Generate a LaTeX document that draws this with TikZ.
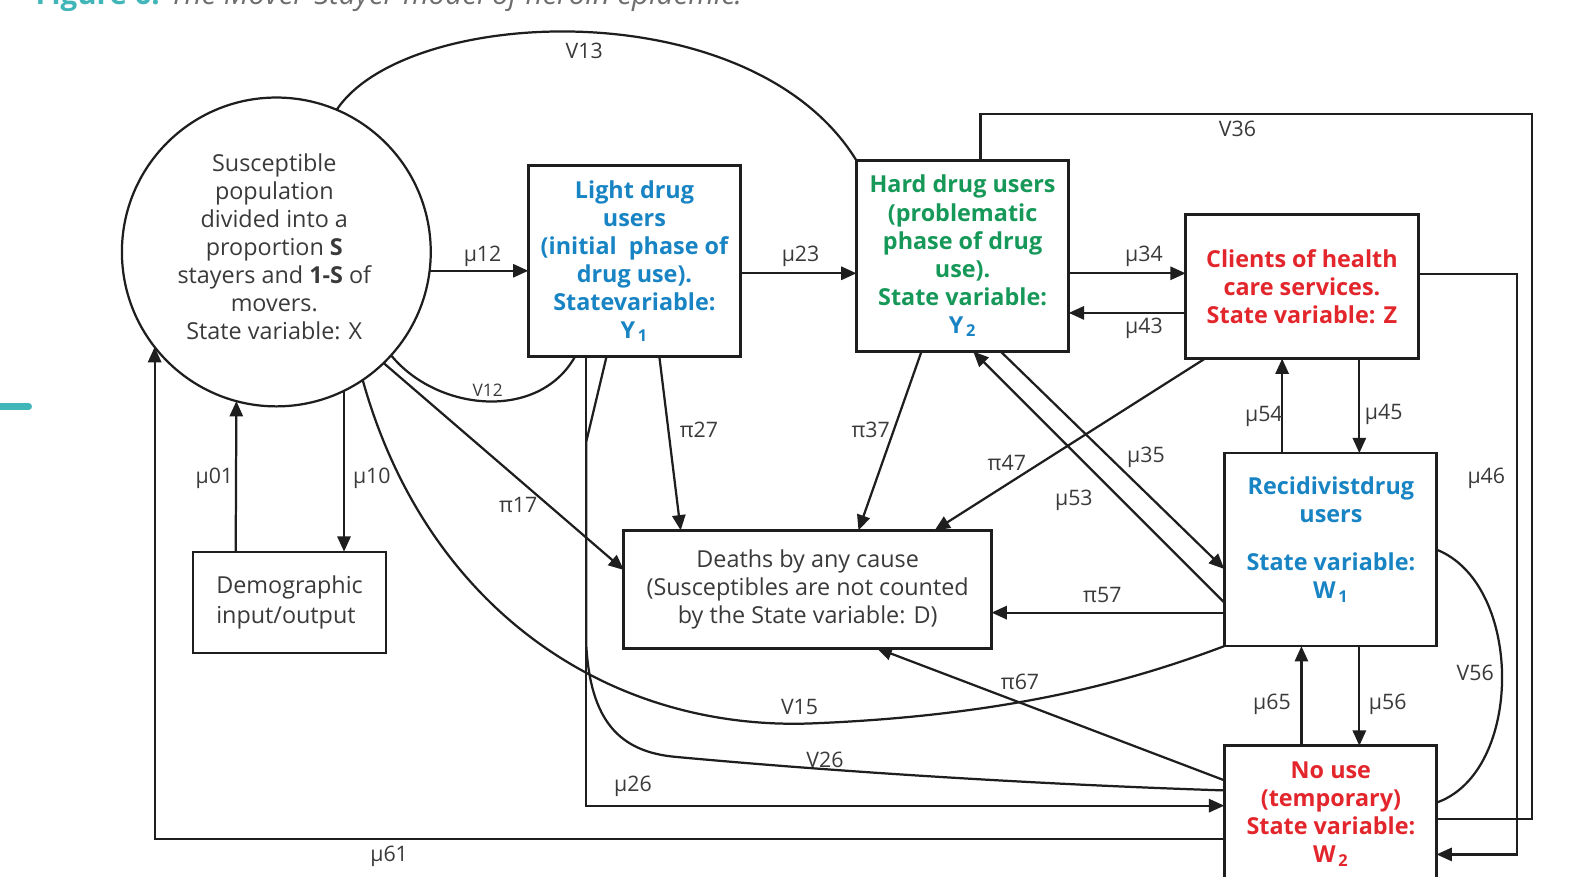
\documentclass[tikz,border=0pt]{standalone}
\usepackage{fontspec}
\setmainfont{Open Sans}
\usetikzlibrary{arrows.meta,calc}
\definecolor{lblue}{RGB}{24,132,196}
\definecolor{hgreen}{RGB}{22,152,88}
\definecolor{cred}{RGB}{226,38,44}
\definecolor{tealsix}{RGB}{64,182,184}
\definecolor{txt}{RGB}{58,58,58}
\definecolor{ttl}{RGB}{110,110,110}
\definecolor{ln}{RGB}{30,30,30}
\newcommand\mainfnt{\fontsize{11.5}{13.8}\selectfont}
\newcommand\labfnt{\fontsize{10.5}{12}\selectfont}
\begin{document}
\begin{tikzpicture}[x=0.5pt,y=-0.5pt,
  every node/.style={inner sep=0pt, outer sep=0pt},
  box/.style={draw=ln, line width=1.3pt, align=center, font=\mainfnt},
  btxt/.style={align=center, font=\mainfnt\bfseries},
  lab/.style={text=txt, font=\labfnt},
  conn/.style={draw=ln, line width=1.1pt},
  arr/.style={conn, -{Triangle[length=7.5pt,width=6.5pt]}}]
\useasboundingbox (0,0) rectangle (1568,863);
\fill[white] (0,0) rectangle (1568,863);
\clip (0,0) rectangle (1568,863);

% title (cut off at top) and side mark
\node[anchor=base west, font=\fontsize{14.5}{16}\selectfont] (T) at (35,4)
  {\textcolor{tealsix}{\bfseries Figure 6:} \textcolor{ttl}{\itshape The Mover-Stayer model of heroin epidemic.}};
\draw[tealsix, line width=3.5pt, line cap=round] (-10,400) -- (28,400);

% nodes
\node[circle, draw=ln, line width=1.1pt, minimum size=152pt] (S) at (272,248) {};
\node[text=txt, align=center, font=\mainfnt] (St) at (270,243)
  {Susceptible\\population\\divided into a\\proportion \textbf{S}\\stayers and \textbf{1-S} of\\movers.\\State variable: X};
\node[box, minimum width=104.5pt, minimum height=94pt, text=lblue, font=\mainfnt\bfseries] (L) at (624.5,257)
  {Light drug\\users\\(initial\ \ phase of\\drug use).\\Statevariable:\\Y\textsubscript{\,1}};
\node[box, minimum width=104.5pt, minimum height=94pt, text=hgreen, font=\mainfnt\bfseries] (H) at (947.5,252)
  {Hard drug users\\(problematic\\phase of drug\\use).\\State variable:\\\textcolor{lblue}{Y\textsubscript{\,2}}};
\node[box, minimum width=114.5pt, minimum height=71pt, text=cred, font=\mainfnt\bfseries] (C) at (1281.5,282)
  {Clients of health\\care services.\\State variable: Z};
\node[box, minimum width=104.5pt, minimum height=95pt] (R) at (1309.5,541) {};
\node[btxt, text=lblue] (Rt) at (1310,531)
  {Recidivistdrug\\users\\[10pt]State variable:\\W\textsubscript{\,1}};
\node[box, minimum width=104.5pt, minimum height=70pt] (N) at (1309.5,804) {};
\node[btxt, text=cred] (Nt) at (1310,801)
  {No use\\(temporary)\\State variable:\\W\textsubscript{\,2}};
\node[box, minimum width=181pt, minimum height=58pt, text=txt] (D) at (795,580)
  {Deaths by any cause\\(Susceptibles are not counted\\by the State variable: D)};
\node[draw=ln, line width=0.9pt, minimum width=95pt, minimum height=50pt, text=txt, align=left,
  font=\fontsize{11.5}{15}\selectfont] (G) at (285,593) {Demographic\\input/output};

% connectors
\coordinate (s12) at (S.-7.9);
\draw[arr] (s12) -- (s12 -| L.west);
\coordinate (l23) at ($(L.east)+(0,12)$);
\draw[arr] (l23) -- (l23 -| H.west);
\coordinate (h34) at ($(H.east)+(0,17)$);
\draw[arr] (h34) -- (h34 -| C.west);
\coordinate (c43) at ($(C.west)+(0,26)$);
\draw[arr] (c43) -- (c43 -| H.east);

\coordinate (h36) at ($(H.north west)+(122,0)$);
\coordinate (k36) at (1508,112);
\draw[conn] (h36) |- (k36) |- ($(N.north east)+(0,72)$);
\coordinate (c46) at ($(C.east)+(0,-12)$);
\coordinate (k46) at (1493,841);
\draw[arr] (c46) -| (k46) -- (k46 -| N.east);

\coordinate (r54) at ($(R.north west)+(57,0)$);
\draw[arr] (r54) -- (r54 |- C.south);
\coordinate (c45) at ($(C.south west)+(171,0)$);
\draw[arr] (c45) -- (c45 |- R.north);
\coordinate (n65) at ($(N.north west)+(76,0)$);
\draw[arr] (n65) -- (n65 |- R.south);
\coordinate (r56) at ($(R.south west)+(133,0)$);
\draw[arr] (r56) -- (r56 |- N.north);
\draw[conn] (R.east) .. controls (1500,575) and (1500,760) .. ($(N.north east)+(0,56)$);

\draw[arr] ($(H.south west)+(142,0)$) -- ($(R.north west)+(0,114)$);
\draw[arr] ($(R.north west)+(0,147)$) -- ($(H.south west)+(115,0)$);
\draw[arr] ($(C.south west)+(19,0)$) -- ($(D.north west)+(306,0)$);
\draw[arr] ($(H.south west)+(64,0)$) -- ($(D.north west)+(231,0)$);
\draw[arr] ($(L.south west)+(129,0)$) -- ($(D.north west)+(56,0)$);
\coordinate (r57) at ($(R.north west)+(0,157)$);
\draw[arr] (r57) -- (r57 -| D.east);
\draw[arr] ($(N.north west)+(0,34)$) -- ($(D.south west)+(249,0)$);
\draw[arr] (S.-46.3) -- ($(D.west)+(0,-19)$);

\draw[conn] (S.-42.9) .. controls (430,405) and (530,415) .. ($(L.south west)+(46,0)$);
\draw[conn] (S.67.6) .. controls (400,5) and (740,-10) .. (H.north west);
\draw[conn] (S.-56.6) .. controls (420,600) and (600,720) .. (800,712)
  .. controls (1000,704) and (1120,668) .. (R.south west);
\draw[conn] ($(L.south west)+(77,0)$) -- ($(L.south west)+(57,84)$) -- ($(L.south west)+(57,283)$)
  .. controls (581,710) and (610,740) .. (665,745)
  .. controls (850,762) and (1050,773) .. ($(N.north west)+(0,44)$);
\coordinate (l26) at ($(L.south west)+(57,0)$);
\draw[arr] (l26) |- ($(N.north west)+(0,59)$);
\draw[arr] ($(N.north west)+(0,92)$) -| (S.-142.7);
\draw[arr] ($(G.north west)+(42,0)$) -- (S.-105.2);
\coordinate (s10) at (S.-64.6);
\draw[arr] (s10) -- (s10 |- G.north);

% labels
\node[lab] (t12) at (475,252) {μ12};
\node[lab] (t23) at (788,252) {μ23};
\node[lab] (t34) at (1126,252) {μ34};
\node[lab] (t43) at (1126,323) {μ43};
\node[lab] (t36) at (1218,127) {V36};
\node[lab] (t13) at (575,50) {V13};
\node[lab] (t46) at (1463,471) {μ46};
\node[lab] (t54) at (1244,410) {μ54};
\node[lab] (t45) at (1362,408) {μ45};
\node[lab] (t65) at (1252,693) {μ65};
\node[lab] (t56) at (1366,693) {μ56};
\node[lab] (v56) at (1452,662) {V56};
\node[lab] (t35) at (1128,450) {μ35};
\node[lab] (t53) at (1057,492) {μ53};
\node[lab] (p47) at (991,456) {π47};
\node[lab] (p37) at (857,423) {π37};
\node[lab] (p27) at (688,423) {π27};
\node[lab] (p57) at (1085,586) {π57};
\node[lab] (p67) at (1004,671) {π67};
\node[lab] (p17) at (510,497) {π17};
\node[lab, font=\fontsize{8.5}{10}\selectfont] (v12) at (480,384) {V12};
\node[lab] (t01) at (211,471) {μ01};
\node[lab] (t10) at (366,471) {μ10};
\node[lab] (t61) at (383,843) {μ61};
\node[lab] (t26) at (623,774) {μ26};
\node[lab] (v26) at (812,748) {V26};
\node[lab] (v15) at (787,696) {V15};
\end{tikzpicture}
\end{document}
